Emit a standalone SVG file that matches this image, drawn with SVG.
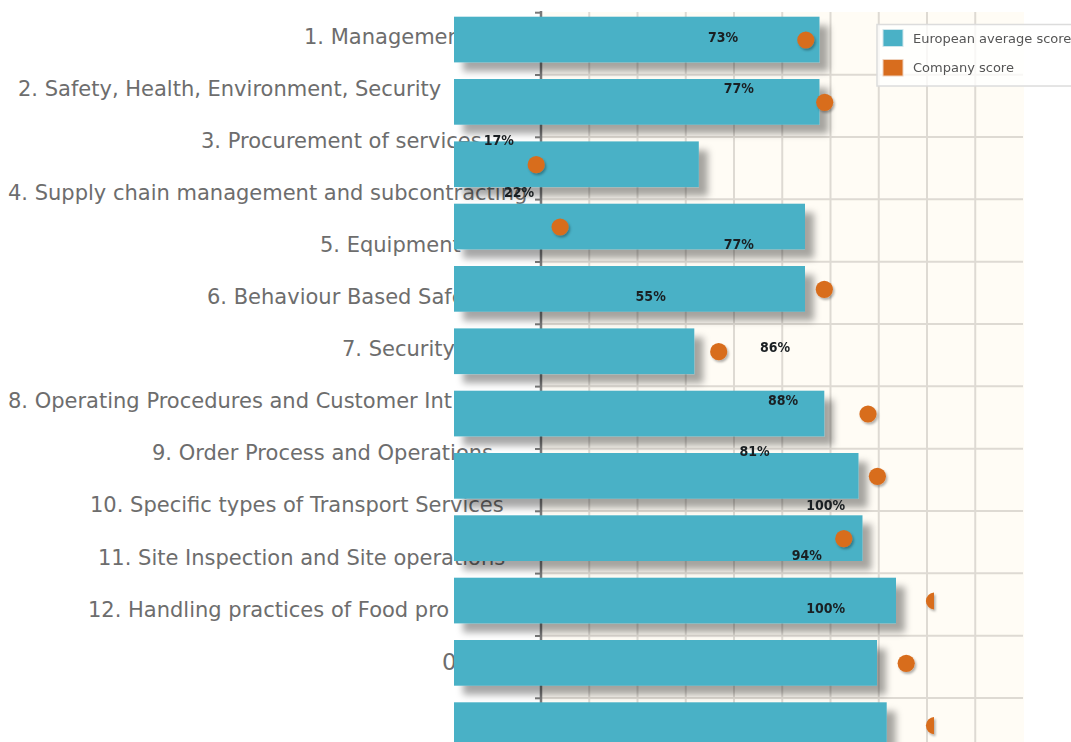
<svg xmlns="http://www.w3.org/2000/svg" width="1071" height="742" viewBox="0 0 1071 742">
<defs>
<style>
.cat{font-family:"DejaVu Sans",sans-serif;font-size:21px;fill:#6d6d6d}
.pct{font-family:"DejaVu Sans Condensed","DejaVu Sans",sans-serif;font-stretch:condensed;font-size:14px;font-weight:bold;fill:#1a1f22;text-anchor:middle}
.bar{fill:#4ab1c6}
.dot{fill:#d86d1e}
.grid{stroke:#dedad3;stroke-width:2}
.tick{stroke:#7a7a7a;stroke-width:2}
.leg{font-family:"DejaVu Sans",sans-serif;font-size:13px;fill:#555}
</style>
<filter id="sh" x="-10%" y="-40%" width="130%" height="200%"><feDropShadow dx="9" dy="9" stdDeviation="3.8" flood-color="#000" flood-opacity="0.35"/></filter>
<filter id="dsh" x="-50%" y="-50%" width="200%" height="200%"><feDropShadow dx="1.5" dy="2" stdDeviation="1.2" flood-color="#000" flood-opacity="0.3"/></filter>
<filter id="bsh" x="-200%" y="-5%" width="500%" height="110%"><feDropShadow dx="3" dy="2" stdDeviation="2" flood-color="#000" flood-opacity="0.3"/></filter>
<filter id="tsh" x="-5%" y="-300%" width="110%" height="700%"><feDropShadow dx="0" dy="2" stdDeviation="1.5" flood-color="#000" flood-opacity="0.2"/></filter>
<clipPath id="clipR"><rect x="0" y="0" width="934" height="742"/></clipPath>
</defs>
<rect width="1071" height="742" fill="#fff"/>
<g id="plot">
<rect x="541" y="12" width="483" height="740" fill="#fffcf5"/>
<g id="grid">
<line class="grid" x1="589.25" y1="12" x2="589.25" y2="742"/>
<line class="grid" x1="637.5" y1="12" x2="637.5" y2="742"/>
<line class="grid" x1="685.75" y1="12" x2="685.75" y2="742"/>
<line class="grid" x1="734" y1="12" x2="734" y2="742"/>
<line class="grid" x1="782.25" y1="12" x2="782.25" y2="742"/>
<line class="grid" x1="830.5" y1="12" x2="830.5" y2="742"/>
<line class="grid" x1="878.75" y1="12" x2="878.75" y2="742"/>
<line class="grid" x1="927" y1="12" x2="927" y2="742"/>
<line class="grid" x1="975.25" y1="12" x2="975.25" y2="742"/>
<line class="grid" x1="541" y1="74.7" x2="1023" y2="74.7"/>
<line class="grid" x1="541" y1="137" x2="1023" y2="137"/>
<line class="grid" x1="541" y1="199.3" x2="1023" y2="199.3"/>
<line class="grid" x1="541" y1="261.7" x2="1023" y2="261.7"/>
<line class="grid" x1="541" y1="324" x2="1023" y2="324"/>
<line class="grid" x1="541" y1="386.3" x2="1023" y2="386.3"/>
<line class="grid" x1="541" y1="448.7" x2="1023" y2="448.7"/>
<line class="grid" x1="541" y1="511" x2="1023" y2="511"/>
<line class="grid" x1="541" y1="573.3" x2="1023" y2="573.3"/>
<line class="grid" x1="541" y1="635.7" x2="1023" y2="635.7"/>
<line class="grid" x1="541" y1="698" x2="1023" y2="698"/>
</g>
<line x1="540" y1="12.5" x2="1025" y2="12.5" stroke="#b2b2b2" stroke-width="3" filter="url(#tsh)"/>
<line x1="1024" y1="11" x2="1024" y2="742" stroke="#9a9a9a" stroke-width="3" filter="url(#bsh)"/>
<g id="axis">
<line x1="541" y1="11" x2="541" y2="742" stroke="#7a7a7a" stroke-width="2.5"/>
<line class="tick" x1="535" y1="12.7" x2="541" y2="12.7"/>
<line class="tick" x1="535" y1="75" x2="541" y2="75"/>
<line class="tick" x1="535" y1="137.3" x2="541" y2="137.3"/>
<line class="tick" x1="535" y1="199.6" x2="541" y2="199.6"/>
<line class="tick" x1="535" y1="262" x2="541" y2="262"/>
<line class="tick" x1="535" y1="324.3" x2="541" y2="324.3"/>
<line class="tick" x1="535" y1="386.6" x2="541" y2="386.6"/>
<line class="tick" x1="535" y1="449" x2="541" y2="449"/>
<line class="tick" x1="535" y1="511.3" x2="541" y2="511.3"/>
<line class="tick" x1="535" y1="573.6" x2="541" y2="573.6"/>
<line class="tick" x1="535" y1="636" x2="541" y2="636"/>
<line class="tick" x1="535" y1="698.3" x2="541" y2="698.3"/>
</g>
</g>
<g id="category-labels">
<text class="cat" x="304" y="43.5">1. Management</text>
<text class="cat" x="18" y="95.6">2. Safety, Health, Environment, Security</text>
<text class="cat" x="201" y="147.7">3. Procurement of services</text>
<text class="cat" x="8" y="199.8">4. Supply chain management and subcontracting</text>
<text class="cat" x="320" y="251.9">5. Equipment</text>
<text class="cat" x="207" y="304">6. Behaviour Based Safe</text>
<text class="cat" x="342" y="356.1">7. Security</text>
<text class="cat" x="8" y="408.2">8. Operating Procedures and Customer Int</text>
<text class="cat" x="152" y="460.3">9. Order Process and Operations</text>
<text class="cat" x="90" y="512.4">10. Specific types of Transport Services</text>
<text class="cat" x="98" y="564.5">11. Site Inspection and Site operations</text>
<text class="cat" x="88" y="616.6">12. Handling practices of Food pro</text>
<text class="cat" x="442" y="670" style="font-size:23px">0</text>
</g>
<g id="bars" filter="url(#sh)">
<rect class="bar" x="454" y="16.7" width="365.5" height="45.7"/>
<rect class="bar" x="454" y="79" width="365.5" height="45.7"/>
<rect class="bar" x="454" y="141.4" width="244.8" height="45.7"/>
<rect class="bar" x="454" y="203.7" width="351" height="45.7"/>
<rect class="bar" x="454" y="266" width="351" height="45.7"/>
<rect class="bar" x="454" y="328.4" width="240.3" height="45.7"/>
<rect class="bar" x="454" y="390.7" width="370.3" height="45.7"/>
<rect class="bar" x="454" y="453" width="404.5" height="45.7"/>
<rect class="bar" x="454" y="515.3" width="408.5" height="45.7"/>
<rect class="bar" x="454" y="577.7" width="442" height="45.7"/>
<rect class="bar" x="454" y="640" width="423" height="45.7"/>
<rect class="bar" x="454" y="702.3" width="432.7" height="45.7"/>
</g>
<g id="company-dots" filter="url(#dsh)">
<circle class="dot" cx="805.8" cy="40" r="8.6"/>
<circle class="dot" cx="824.7" cy="102.3" r="8.6"/>
<circle class="dot" cx="536.2" cy="164.7" r="8.6"/>
<circle class="dot" cx="560.1" cy="227" r="8.6"/>
<circle class="dot" cx="824.3" cy="289.3" r="8.6"/>
<circle class="dot" cx="718.7" cy="351.7" r="8.6"/>
<circle class="dot" cx="868" cy="414" r="8.6"/>
<circle class="dot" cx="877.4" cy="476.3" r="8.6"/>
<circle class="dot" cx="843.8" cy="538.6" r="8.6"/>
<circle class="dot" cx="934.5" cy="601" r="8.6" clip-path="url(#clipR)"/>
<circle class="dot" cx="906.2" cy="663.3" r="8.6"/>
<circle class="dot" cx="934.5" cy="725.6" r="8.6" clip-path="url(#clipR)"/>
</g>
<g id="value-labels">
<text class="pct" x="723" y="41.8">73%</text>
<text class="pct" x="738.8" y="92.8">77%</text>
<text class="pct" x="498.8" y="145.1">17%</text>
<text class="pct" x="519" y="196.8">22%</text>
<text class="pct" x="738.8" y="248.6">77%</text>
<text class="pct" x="650.7" y="301.3">55%</text>
<text class="pct" x="775" y="352">86%</text>
<text class="pct" x="783" y="404.8">88%</text>
<text class="pct" x="754.6" y="456.1">81%</text>
<text class="pct" x="825.6" y="509.5">100%</text>
<text class="pct" x="806.8" y="559.5">94%</text>
<text class="pct" x="825.6" y="612.8">100%</text>
</g>
<g id="legend">
<rect x="877" y="24.5" width="200" height="61.5" fill="#ffffff" fill-opacity="0.78" stroke="#dcdcdc" stroke-width="1.5"/>
<rect x="883" y="29.5" width="20" height="17" fill="#4ab1c6" stroke="#cfe6ec" stroke-width="1"/>
<rect x="883" y="59.5" width="20" height="16.5" fill="#d86d1e" stroke="#efd2bd" stroke-width="1"/>
<text class="leg" x="913" y="42.8">European average score</text>
<text class="leg" x="913" y="72">Company score</text>
</g>
</svg>
